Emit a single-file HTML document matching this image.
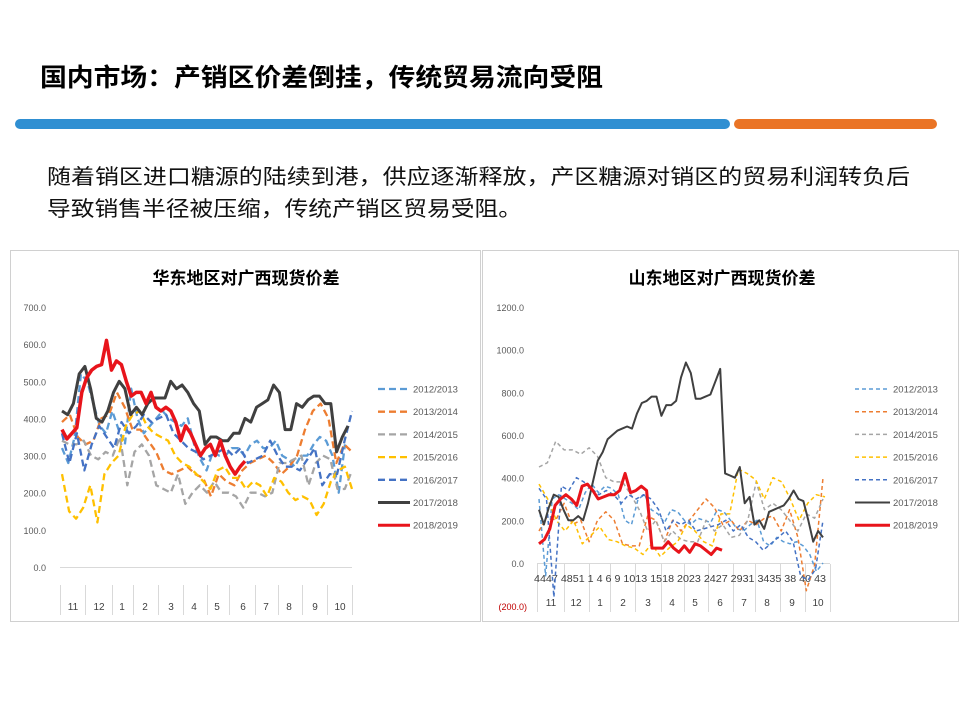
<!DOCTYPE html>
<html><head><meta charset="utf-8"><style>
body{margin:0;width:960px;height:720px;background:#fff;overflow:hidden;font-family:"Liberation Sans","Noto Sans CJK SC",sans-serif;}
</style></head><body>
<svg id="s" width="960" height="720" xmlns="http://www.w3.org/2000/svg" font-family="Liberation Sans, Noto Sans CJK SC, sans-serif">
<text x="40" y="86" font-size="25" font-weight="bold" fill="#000" textLength="563" lengthAdjust="spacingAndGlyphs">国内市场：产销区价差倒挂，传统贸易流向受阻</text>
<rect x="15" y="119" width="715" height="10" rx="5" fill="#2f8fd2"/>
<rect x="734" y="119" width="203" height="10" rx="5" fill="#ea7425"/>
<text x="47" y="184" font-size="21" fill="#111" textLength="863" lengthAdjust="spacingAndGlyphs">随着销区进口糖源的陆续到港，供应逐渐释放，产区糖源对销区的贸易利润转负后</text>
<text x="47" y="216" font-size="21" fill="#111" textLength="475" lengthAdjust="spacingAndGlyphs">导致销售半径被压缩，传统产销区贸易受阻。</text>
<rect x="10.5" y="250.5" width="470" height="371" fill="#fff" stroke="#d0d0d0"/>
<rect x="482.5" y="250.5" width="476" height="371" fill="#fff" stroke="#d0d0d0"/>
<text x="246" y="284" font-size="17" font-weight="bold" text-anchor="middle">华东地区对广西现货价差</text>
<text x="722" y="284" font-size="17" font-weight="bold" text-anchor="middle">山东地区对广西现货价差</text>
<g id="g"></g>
</svg>
<script>
const g=document.getElementById('g');let h='';
const C=['#5b9bd5','#ed7d31','#a5a5a5','#ffc000','#4472c4','#404040','#e8141b'];
const N=['2012/2013','2013/2014','2014/2015','2015/2016','2016/2017','2017/2018','2018/2019'];
function line(x1,y1,x2,y2,c,w){h+=`<line x1="${x1}" y1="${y1}" x2="${x2}" y2="${y2}" stroke="${c}" stroke-width="${w||1}"/>`;}
function txt(x,y,t,s,c,a){h+=`<text x="${x}" y="${y}" font-size="${s}" fill="${c||'#595959'}" text-anchor="${a||'start'}">${t}</text>`;}
function series(vals,x0,x1,y0,k,c,w,dash){let p=vals.map((v,i)=>[(x0+(x1-x0)*i/(vals.length-1)).toFixed(1),(y0-v*k).toFixed(1)].join(',')).join(' ');
h+=`<polyline points="${p}" fill="none" stroke="${c}" stroke-width="${w}" ${dash?`stroke-dasharray="${dash}"`:''} stroke-linejoin="round"/>`;}
// LEFT
let L0=567,Lk=260/700;
for(let i=0;i<=7;i++)txt(46,L0-i*100*Lk+4,(i*100)+'.0',9,'#595959','end');
line(60,567.5,352,567.5,'#d9d9d9');
[60,85,112,133,158,183,207,229,255,278,302,327,352].forEach(x=>line(x+.5,585,x+.5,615,'#d9d9d9'));
[['11',73],['12',99],['1',122],['2',145],['3',171],['4',194],['5',217],['6',243],['7',266],['8',289],['9',315],['10',340]].forEach(a=>txt(a[1],610,a[0],10,'#404040','middle'));
const LD=[
[320,280,350,520,500,440,380,360,420,370,330,480,400,360,380,400,420,400,390,380,400,330,290,260,310,300,300,320,320,300,330,340,320,320,340,300,290,270,300,300,330,350,340,300,200,330],
[390,410,350,330,340,400,410,470,430,370,370,340,310,260,250,260,270,250,240,190,250,230,220,260,280,290,300,280,250,270,300,370,420,440,400,280,330,310],
[340,330,330,340,300,290,310,300,350,220,310,330,300,220,210,200,250,170,200,220,200,230,200,200,190,160,200,200,190,200,280,280,290,300,220,280,300,290,210,210,260],
[250,150,130,160,220,120,250,280,300,380,410,420,380,360,350,340,300,280,270,250,230,210,260,270,240,240,210,230,220,190,240,230,200,180,190,180,140,170,230,260,270,210],
[360,280,360,260,330,380,350,320,390,360,380,410,390,400,410,360,340,320,310,290,300,310,320,300,320,280,290,300,340,300,270,270,260,290,320,220,250,250,340,420],
[420,410,440,520,540,480,400,390,420,470,500,480,410,430,410,440,455,455,455,500,480,490,470,440,420,330,350,350,340,340,360,360,400,390,430,440,450,490,470,370,370,440,430,450,460,460,440,440,310,350,380],
[370,345,360,375,470,510,530,540,545,610,530,555,545,500,460,470,470,440,470,430,420,430,420,390,340,380,360,330,300,320,330,300,340,300,270,250,270,285]];
const LE=[345,352,352,352,352,348,245];
LD.forEach((d,i)=>series(d,62,LE[i],L0,Lk,C[i],i==6?3.5:(i==5?3:2.3),i<5?'7,4':''));
N.forEach((n,i)=>{let y=389+i*22.7;line(378,y,410,y,C[i],i>=5?3:2.3);if(i<5)h+=`<line x1="378" y1="${y}" x2="410" y2="${y}" stroke="#fff" stroke-width="3" stroke-dasharray="0,7,4,0"/>`;txt(413,y+3.5,n,9.5,'#595959');});
// RIGHT
let R0=563,Rk=256/1200;
for(let i=0;i<=6;i++)txt(524,R0-i*200*Rk+4,(i*200)+'.0',9,'#595959','end');
txt(527,610,'(200.0)',9,'#c00000','end');
[537,564,589,610,635,661,684,708,733,755,780,805,830].forEach(x=>line(x+.5,564,x+.5,612,'#d9d9d9'));
line(537,563.5,830,563.5,'#d9d9d9');
h+=`<text x="534" y="582" font-size="10" fill="#404040" textLength="292" lengthAdjust="spacingAndGlyphs">4447 4851 1  4  6  9 1013 1518 2023 2427 2931 3435 38 40 43</text>`;
[['11',551],['12',576],['1',600],['2',623],['3',648],['4',672],['5',695],['6',720],['7',744],['8',767],['9',792],['10',818]].forEach(a=>txt(a[1],606,a[0],10,'#404040','middle'));
const RD=[
[300,-60,300,320,300,280,250,330,370,330,360,350,320,200,180,300,320,250,230,190,250,240,200,180,210,200,190,250,240,200,160,150,180,200,100,80,120,100,90,100,80,40,-40,0],
[150,220,200,280,180,200,100,200,240,200,90,80,80,220,200,100,200,150,200,250,300,260,180,200,150,200,180,210,220,150,250,120,-130,-10,400],
[450,470,570,530,530,510,540,500,400,380,380,320,250,150,200,100,150,110,100,100,200,150,180,120,130,200,380,250,280,250,200,150,230,210,300],
[370,300,200,150,200,90,130,170,110,100,80,70,40,90,30,70,100,180,150,100,80,230,230,440,420,390,300,400,380,300,200,280,320,310],
[350,300,-160,360,340,400,380,350,320,340,320,280,320,300,320,300,250,150,200,180,200,150,160,170,180,200,150,180,120,100,60,90,120,150,100,-60,-80,-30,200],
[250,180,260,320,310,250,200,200,220,200,280,380,480,520,580,600,620,630,640,630,700,750,760,780,780,690,740,740,760,870,940,890,770,770,780,790,850,910,420,410,400,450,280,310,180,200,160,240,250,260,270,300,340,300,290,200,100,150,120],
[90,110,160,270,300,320,300,270,360,370,340,300,310,320,320,340,420,330,340,360,340,70,70,70,100,70,50,80,50,90,80,60,40,70,60]];
const RE=[823,823,823,825,823,823,722];
RD.forEach((d,i)=>series(d,539,RE[i],R0,Rk,C[i],i==6?3:(i==5?2:1.5),i<5?'4,3':''));
N.forEach((n,i)=>{let y=389+i*22.7;line(855,y,890,y,C[i],i==6?3:(i==5?2:1.5));if(i<5)h+=`<line x1="855" y1="${y}" x2="890" y2="${y}" stroke="#fff" stroke-width="2" stroke-dasharray="0,4,3,0"/>`;txt(893,y+3.5,n,9.5,'#595959');});
g.innerHTML=h;
</script>
</body></html>
